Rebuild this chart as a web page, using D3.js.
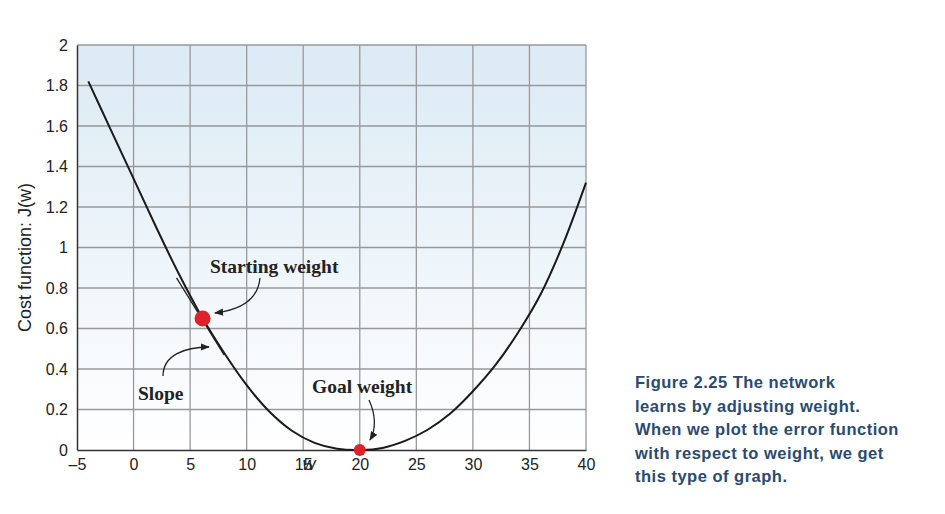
<!DOCTYPE html>
<html><head><meta charset="utf-8">
<script src="https://cdn.jsdelivr.net/npm/d3@7"></script>
<style>body{margin:0;background:#fff;} svg{display:block;}</style>
</head><body>
<div id="chart"></div>
<script>
// Curve
const wValues = [-4, -2, 0, 2, 4, 6, 8, 10, 12, 14, 16, 18, 20, 22, 24, 26, 28, 30, 32, 34, 36, 38, 40];
const costValues = [1.82, 1.58, 1.34, 1.1, 0.87, 0.66, 0.48, 0.32, 0.19, 0.095, 0.035, 0.006, 0, 0.01, 0.045, 0.1, 0.18, 0.29, 0.42, 0.58, 0.77, 1.02, 1.32];
const xTicks = [-5, 0, 5, 10, 15, 20, 25, 30, 35, 40];
const yTicks = [0, 0.2, 0.4, 0.6, 0.8, 1, 1.2, 1.4, 1.6, 1.8, 2];
const startPoint = { w: 6.1, j: 0.65 };
const goalPoint = { w: 20, j: 0 };
const tangentW = [3.8, 8.0];
const tangentJ = [0.85, 0.47];
const captionLines = ['Figure 2.25   The network', 'learns by adjusting weight.', 'When we plot the error function', 'with respect to weight, we get', 'this type of graph.'];

const width = 945, height = 514;
const margin = { top: 45, left: 77, right: 359, bottom: 64 };
const plotW = width - margin.left - margin.right;
const plotH = height - margin.top - margin.bottom;

const svg = d3.select('#chart').append('svg')
    .attr('width', width).attr('height', height)
    .style('font-family', 'Liberation Sans, Arial, sans-serif');

const defs = svg.append('defs');
const grad = defs.append('linearGradient').attr('id', 'bg')
    .attr('x1', 0).attr('y1', 0).attr('x2', 0).attr('y2', 1);
grad.append('stop').attr('offset', '0%').attr('stop-color', '#dbeaf4');
grad.append('stop').attr('offset', '100%').attr('stop-color', '#ffffff');
const marker = defs.append('marker').attr('id', 'arrow')
    .attr('viewBox', '0 0 10 10').attr('refX', 9).attr('refY', 5)
    .attr('markerWidth', 7).attr('markerHeight', 7).attr('orient', 'auto');
marker.append('path').attr('d', 'M0,1 L10,5 L0,9 Z').attr('fill', '#222');

const x = d3.scaleLinear().domain([-5, 40]).range([0, plotW]);
const y = d3.scaleLinear().domain([0, 2]).range([plotH, 0]);

const g = svg.append('g').attr('transform', `translate(${margin.left},${margin.top})`);

g.append('rect').attr('width', plotW).attr('height', plotH).attr('fill', 'url(#bg)');

// Grid
g.selectAll('.vgrid').data(xTicks.slice(1)).enter().append('line')
    .attr('x1', d => x(d)).attr('x2', d => x(d)).attr('y1', 0).attr('y2', plotH)
    .attr('stroke', '#999').attr('stroke-width', 1.3);
g.selectAll('.hgrid').data(yTicks.slice(1)).enter().append('line')
    .attr('x1', 0).attr('x2', plotW).attr('y1', d => y(d)).attr('y2', d => y(d))
    .attr('stroke', '#999').attr('stroke-width', 1.3);

// Axes
const xAxis = g.append('g').attr('transform', `translate(0,${plotH})`)
    .call(d3.axisBottom(x).tickValues(xTicks).tickSize(0).tickPadding(9)
        .tickFormat(d => d < 0 ? '\u2013' + Math.abs(d) : d));
const yAxis = g.append('g')
    .call(d3.axisLeft(y).tickValues(yTicks).tickSize(0).tickPadding(9).tickFormat(d => String(+d.toFixed(1))));
[xAxis, yAxis].forEach(a => {
    a.select('.domain').attr('stroke', '#333').attr('stroke-width', 1.5);
    a.selectAll('text').attr('font-size', 16).attr('fill', '#222');
});

svg.append('text').attr('x', margin.left + x(15.5)).attr('y', 470)
    .attr('text-anchor', 'middle').attr('font-size', 18).attr('font-style', 'italic').attr('fill', '#222').text('w');
svg.append('text').attr('transform', `translate(31,${margin.top + plotH / 2 + 10}) rotate(-90)`)
    .attr('text-anchor', 'middle').attr('font-size', 18).attr('fill', '#222')
    .text('Cost function: J(w)');

// Curve
const line = d3.line().x(d => x(d[0])).y(d => y(d[1])).curve(d3.curveCatmullRom);
g.append('path').datum(wValues.map((w, i) => [w, costValues[i]]))
    .attr('d', line).attr('fill', 'none').attr('stroke', '#1a1a1a').attr('stroke-width', 2);

// Tangent slope line
g.append('path').datum(tangentW.map((w, i) => [w, tangentJ[i]]))
    .attr('d', d3.line().x(d => x(d[0])).y(d => y(d[1])))
    .attr('stroke', '#222').attr('stroke-width', 1.3);

// Points
g.append('circle').attr('cx', x(startPoint.w)).attr('cy', y(startPoint.j)).attr('r', 8).attr('fill', '#e0202a');
g.append('circle').attr('cx', x(goalPoint.w)).attr('cy', y(goalPoint.j)).attr('r', 6).attr('fill', '#e0202a');

// Annotations
const labelFont = 'Liberation Serif, serif';
function label(t, lx, ly) {
    svg.append('text').attr('x', lx).attr('y', ly).attr('font-family', labelFont)
        .attr('font-weight', 'bold').attr('font-size', 19.5).attr('fill', '#222').text(t);
}
label('Starting weight', 210, 273);
label('Slope', 138, 400);
label('Goal weight', 312, 393);
function arrow(d) {
    svg.append('path').attr('d', d).attr('fill', 'none').attr('stroke', '#222')
        .attr('stroke-width', 1.3).attr('marker-end', 'url(#arrow)');
}
arrow('M260,278 C258,300 240,310 215,313');
arrow('M163,376 C163,355 185,347 209,347');
arrow('M369,400 C376,415 376,430 370,440');

// Caption
const cap = svg.append('text').attr('font-family', 'Liberation Sans, Arial, sans-serif')
    .attr('font-weight', 'bold').attr('font-size', 16.5).attr('letter-spacing', 0.5).attr('fill', '#2b4a6f');
captionLines.forEach((t, i) => cap.append('tspan').attr('x', 635).attr('y', 388 + i * 23.5).text(t));
</script>
</body></html>
